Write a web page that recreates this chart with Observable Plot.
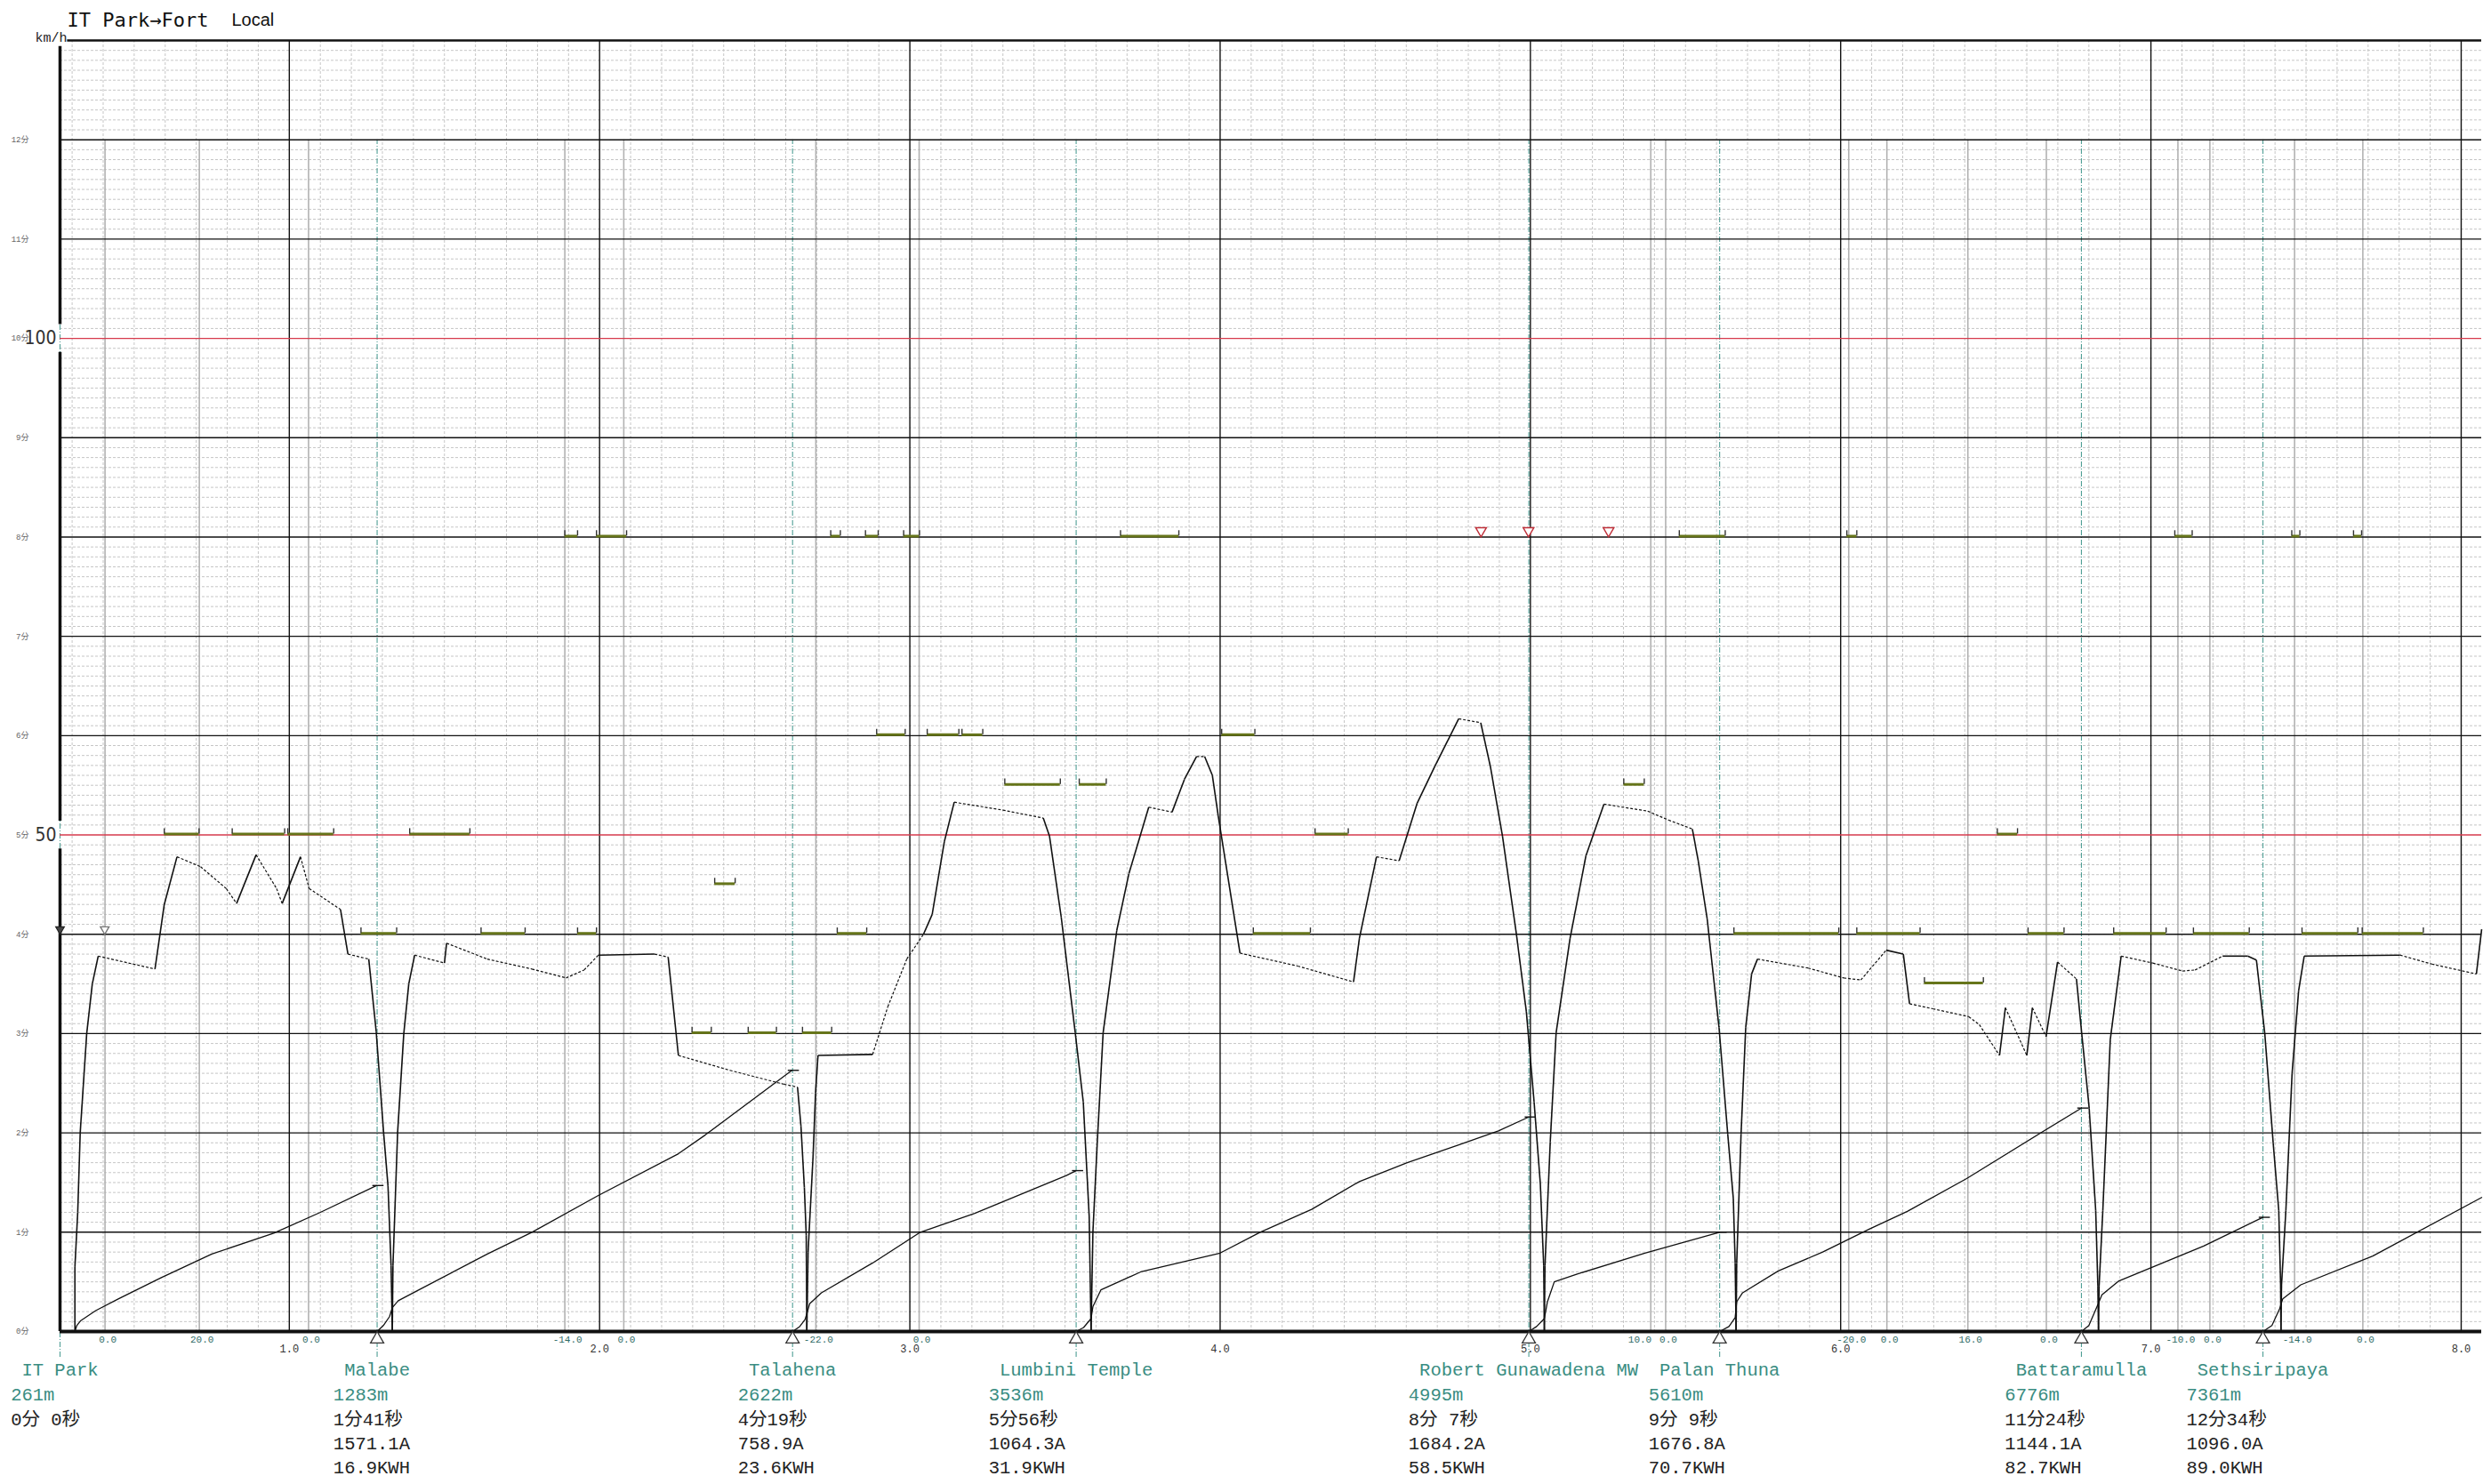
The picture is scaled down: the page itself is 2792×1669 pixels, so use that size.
<!DOCTYPE html>
<html><head><meta charset="utf-8">
<script src="https://cdn.jsdelivr.net/npm/d3@7"></script>
<script src="https://cdn.jsdelivr.net/npm/@observablehq/plot@0.6"></script>
<style>
html,body{margin:0;padding:0;background:#fff;}
#chart svg{display:block;}
</style>
</head><body><div id="chart"></div>
<script>
// ---------------- data ----------------
const stationNames = ["IT Park","Malabe","Talahena","Lumbini Temple","Robert Gunawadena MW","Palan Thuna","Battaramulla","Sethsiripaya"];
const stationKm = [0.261, 1.283, 2.622, 3.536, 4.995, 5.610, 6.776, 7.361];
const stationDistM = [261, 1283, 2622, 3536, 4995, 5610, 6776, 7361];
const stationTime = ["0分 0秒","1分41秒","4分19秒","5分56秒","8分 7秒","9分 9秒","11分24秒","12分34秒"];
const stationCurrentA = [null, 1571.1, 758.9, 1064.3, 1684.2, 1676.8, 1144.1, 1096.0];
const stationEnergyKWh = [null, 16.9, 23.6, 31.9, 58.5, 70.7, 82.7, 89.0];

const gradientKm = [0.406, 0.710, 1.062, 1.888, 2.078, 2.697, 3.030, 5.388, 5.436, 6.026, 6.149, 6.410, 6.663, 7.087, 7.190, 7.463, 7.683];
const gradientPermil = [0, 20, 0, -14, 0, -22, 0, 10, 0, -20, 0, 16, 0, -10, 0, -14, 0];

const kmTicks = [1, 2, 3, 4, 5, 6, 7, 8];
const speedGridMajor = [10, 20, 30, 40, 60, 70, 80, 90, 110, 120];
const speedRedLines = [50, 100];
const minuteTicks = [0,10,20,30,40,50,60,70,80,90,100,110,120];

// speed limits: [from km, to km, km/h]
const speedLimits = [
 [0.597,0.709,50],[0.816,0.985,50],[0.995,1.143,50],[1.231,1.346,40],[1.388,1.582,50],
 [1.618,1.760,40],[1.888,1.929,80],[1.929,1.990,40],[1.990,2.087,80],[2.298,2.360,30],
 [2.371,2.437,45],[2.479,2.570,30],[2.654,2.748,30],[2.745,2.776,80],[2.766,2.861,40],
 [2.857,2.898,80],[2.893,2.985,60],[2.980,3.031,80],[3.056,3.158,60],[3.168,3.235,60],
 [3.306,3.485,55],[3.546,3.633,55],[3.679,3.867,80],[4.005,4.112,60],[4.107,4.291,40],
 [4.306,4.413,50],[5.301,5.367,55],[5.480,5.628,80],[5.656,5.994,40],[6.020,6.052,80],
 [6.052,6.256,40],[6.270,6.460,35],[6.505,6.570,50],[6.604,6.720,40],[6.880,7.049,40],
 [7.077,7.133,80],[7.137,7.317,40],[7.454,7.480,80],[7.487,7.667,40],[7.653,7.679,80],
 [7.681,7.878,40]
];

// speed profile: [km, km/h, run mode of the following stretch: p = power/brake, c = coast]
const speedProfile = [
 [0.309,0,"p"],[0.309,6.5,"p"],[0.318,12,"p"],[0.326,20,"p"],[0.347,30,"p"],[0.365,35,"p"],
 [0.384,37.8,"c"],[0.567,36.5,"p"],[0.597,43.0,"p"],[0.638,47.8,"c"],[0.714,46.8,"c"],[0.797,44.6,"c"],
 [0.830,43.1,"p"],[0.893,48.0,"c"],[0.959,44.6,"c"],[0.977,43.1,"p"],[1.036,47.8,"c"],[1.064,44.6,"c"],
 [1.165,42.5,"p"],[1.189,38.0,"c"],[1.256,37.5,"p"],[1.280,30.2,"p"],[1.304,20.0,"p"],[1.318,14.7,"p"],
 [1.328,6.6,"p"],[1.332,0,"p"],
 [1.334,6.6,"p"],[1.349,20,"p"],[1.369,30,"p"],[1.385,35,"p"],[1.404,37.9,"c"],[1.500,37.1,"p"],
 [1.507,39.1,"c"],[1.638,37.5,"c"],[1.782,36.5,"c"],[1.892,35.6,"c"],[1.950,36.4,"c"],[1.996,37.9,"p"],
 [2.177,38.0,"c"],[2.221,37.7,"p"],[2.254,27.8,"c"],[2.420,26.3,"c"],[2.594,24.9,"c"],[2.638,24.6,"p"],
 [2.649,20.7,"p"],[2.660,14.5,"p"],[2.666,9.7,"p"],[2.668,0,"p"],
 [2.672,8,"p"],[2.688,17.6,"p"],[2.696,24,"p"],[2.704,27.8,"p"],[2.880,27.9,"c"],[2.929,32.7,"c"],
 [2.990,37.5,"c"],[3.044,40.0,"p"],[3.072,42.0,"p"],[3.111,49.3,"p"],[3.143,53.3,"c"],[3.300,52.5,"c"],
 [3.430,51.7,"p"],[3.450,49.9,"p"],[3.488,41.7,"p"],[3.533,30.1,"p"],[3.559,23.1,"p"],[3.578,11.6,"p"],
 [3.584,0,"p"],
 [3.590,10,"p"],[3.604,19,"p"],[3.623,30.1,"p"],[3.667,40.4,"p"],[3.706,46.1,"p"],[3.770,52.8,"c"],
 [3.845,52.3,"p"],[3.885,55.6,"p"],[3.924,57.9,"c"],[3.950,57.9,"p"],[3.975,56.0,"p"],[3.994,51.9,"p"],
 [4.064,38.1,"c"],[4.250,36.8,"c"],[4.430,35.2,"p"],[4.449,39.6,"p"],[4.504,47.8,"c"],[4.577,47.4,"p"],
 [4.635,53.2,"p"],[4.692,56.9,"p"],[4.769,61.7,"c"],[4.840,61.3,"p"],[4.871,56.9,"p"],[4.910,49.9,"p"],
 [4.955,40.0,"p"],[4.987,32.2,"p"],[5.012,23.1,"p"],[5.032,14.9,"p"],[5.043,6.6,"p"],[5.045,0,"p"],
 [5.047,6.6,"p"],[5.064,19.1,"p"],[5.083,30.1,"p"],[5.128,39.6,"p"],[5.179,47.9,"p"],[5.237,53.1,"c"],
 [5.378,52.4,"c"],[5.445,51.5,"c"],[5.522,50.6,"p"],[5.541,47.4,"p"],[5.570,41.5,"p"],[5.608,30.6,"p"],
 [5.636,19.9,"p"],[5.654,13.4,"p"],[5.660,6.9,"p"],[5.663,0,"p"],
 [5.665,6.9,"p"],[5.679,19.9,"p"],[5.694,30.6,"p"],[5.713,36.0,"p"],[5.732,37.5,"c"],[5.895,36.6,"c"],
 [6.010,35.6,"c"],[6.065,35.4,"c"],[6.147,38.4,"p"],[6.202,38.0,"p"],[6.222,33.0,"c"],[6.297,32.5,"c"],
 [6.413,31.7,"c"],[6.447,30.9,"c"],[6.512,27.8,"p"],[6.531,32.6,"c"],[6.600,27.8,"p"],[6.618,32.6,"c"],
 [6.662,29.7,"p"],[6.699,37.2,"c"],[6.760,35.5,"p"],[6.777,30.0,"p"],[6.801,22.5,"p"],[6.822,12.2,"p"],
 [6.829,4.6,"p"],[6.831,0,"p"],
 [6.833,4.6,"p"],[6.845,12.2,"p"],[6.869,29.4,"p"],[6.904,37.8,"c"],[7.006,37.1,"c"],[7.102,36.3,"c"],
 [7.142,36.4,"c"],[7.231,37.8,"p"],[7.312,37.8,"p"],[7.340,37.4,"p"],[7.367,30.0,"p"],[7.394,19.0,"p"],
 [7.412,12.2,"p"],[7.418,4.7,"p"],[7.419,0,"p"],
 [7.421,4.7,"p"],[7.435,12.2,"p"],[7.455,26.0,"p"],[7.476,34.3,"p"],[7.494,37.8,"p"],[7.803,37.9,"c"],
 [7.905,37.0,"c"],[8.049,36.0,"p"],[8.066,40.5,"p"]
];

// running time between stations: [leg, km, minutes]
const runTime = [
 [0,0.309,0],[0,0.315,0.06],[0,0.328,0.11],[0,0.376,0.21],[0,0.450,0.33],[0,0.586,0.54],[0,0.750,0.78],[0,0.950,0.99],[0,1.100,1.20],[0,1.281,1.47],
 [1,1.283,0],[1,1.303,0.06],[1,1.323,0.15],[1,1.332,0.24],[1,1.351,0.31],[1,1.400,0.39],[1,1.638,0.78],[1,1.782,1.00],[1,1.996,1.37],[1,2.254,1.79],[1,2.341,1.98],[1,2.620,2.63],
 [2,2.622,0],[2,2.645,0.05],[2,2.662,0.12],[2,2.670,0.20],[2,2.677,0.28],[2,2.715,0.39],[2,2.880,0.69],[2,3.034,1.00],[2,3.209,1.19],[2,3.504,1.57],[2,3.536,1.62],
 [3,3.536,0],[3,3.560,0.04],[3,3.584,0.13],[3,3.590,0.25],[3,3.616,0.42],[3,3.744,0.60],[3,4.000,0.79],[3,4.129,1.00],[3,4.295,1.23],[3,4.449,1.51],[3,4.603,1.70],[3,4.769,1.88],[3,4.897,2.02],[3,4.995,2.16],
 [4,4.995,0],[4,5.020,0.05],[4,5.045,0.13],[4,5.055,0.30],[4,5.077,0.50],[4,5.153,0.58],[4,5.369,0.79],[4,5.610,1.00],
 [5,5.610,0],[5,5.640,0.05],[5,5.660,0.14],[5,5.665,0.30],[5,5.684,0.39],[5,5.799,0.61],[5,5.942,0.80],[5,6.092,1.03],[5,6.215,1.21],[5,6.406,1.54],[5,6.650,2.01],[5,6.776,2.25],
 [6,6.776,0],[6,6.800,0.06],[6,6.829,0.27],[6,6.842,0.37],[6,6.897,0.51],[6,7.170,0.86],[6,7.361,1.15],
 [7,7.361,0],[7,7.390,0.06],[7,7.415,0.23],[7,7.425,0.33],[7,7.483,0.47],[7,7.715,0.76],[7,8.066,1.35]
];

const redMarkersKm = [4.841, 4.994, 5.252];        // at 80 km/h
const markerFilledKm = [0.261];                    // at 40 km/h
const markerOpenKm = [0.405];                      // at 40 km/h

// ---------------- layout ----------------
const W = 2792, H = 1669, mL = 67, mR = 2, mT = 45, mB = 172;
const xDom = [0.261, 8.066];
const pxPerKm = (W - mL - mR) / (xDom[1] - xDom[0]);
const MONO = `"Liberation Mono","DejaVu Sans Mono","Noto Sans CJK JP",monospace`;
const TITLE = `"DejaVu Sans Mono","Liberation Mono",monospace`;
const NARROW = `"Liberation Sans Narrow","DejaVu Sans Condensed","Liberation Sans",sans-serif`;
const LFS = 20.5, CW = LFS * 0.6;

const stations = stationNames.map((name, i) => ({
  name, km: stationKm[i],
  dist: stationDistM[i] + "m",
  time: stationTime[i],
  amp: stationCurrentA[i] == null ? "" : stationCurrentA[i].toFixed(1) + "A",
  kwh: stationEnergyKWh[i] == null ? "" : stationEnergyKWh[i].toFixed(1) + "KWH"
}));
const leftOf = d => d.km - (d.name.length / 2 + 1) * CW / pxPerKm;

const segs = d3.pairs(speedProfile).map(([a, b]) => ({x1: a[0], y1: a[1], x2: b[0], y2: b[1], mode: a[2]}));
const limitEnds = speedLimits.flatMap(([a, b, v]) => [[a, v], [b, v]]);
const legs = d3.groups(runTime, d => d[0]);
const timeEnds = legs.slice(0, -1).map(([, pts]) => pts[pts.length - 1]);

const minorY = d3.range(1, 130).filter(v => v % 10 !== 0);
const minorX = d3.range(3, 81).filter(v => v % 10 !== 0).map(v => v / 10);

// gradient labels: when the next change point is very close, anchor the label to the left of its line
const gradLabels = gradientKm.map((km, i) => ({
  km, text: gradientPermil[i].toFixed(1),
  crowded: i < gradientKm.length - 1 && (gradientKm[i + 1] - km) * pxPerKm < 30
}));

const lineLabel = (field, dy, fill, anchor) => Plot.text(stations.filter(d => d[field] !== ""), {
  x: anchor === "middle" ? d => d.km : leftOf, y: 0, text: field,
  dy, textAnchor: anchor, lineAnchor: "middle", fontSize: LFS, fontFamily: MONO, fill
});

const chart = Plot.plot({
  width: W, height: H,
  marginLeft: mL, marginRight: mR, marginTop: mT, marginBottom: mB,
  x: {domain: xDom},
  y: {domain: [0, 130]},
  style: {background: "white", fontFamily: MONO, overflow: "visible"},
  marks: [
    // grid
    Plot.ruleY(minorY, {stroke: "#c6c6c6", strokeWidth: 1, strokeDasharray: "3,2"}),
    Plot.ruleX(minorX, {stroke: "#c6c6c6", strokeWidth: 1, strokeDasharray: "3,2"}),
    Plot.ruleX(gradientKm, {y1: 0, y2: 120, stroke: "#b2b2b2", strokeWidth: 1.6}),
    Plot.ruleX(stationKm, {y1: -2.6, y2: 120, stroke: "#4f9e95", strokeWidth: 1.1, strokeDasharray: "6,2,1,2"}),
    Plot.ruleX(kmTicks, {y1: 0, y2: 130, stroke: "#111", strokeWidth: 1.4}),
    Plot.ruleY(speedGridMajor, {stroke: "#111", strokeWidth: 1.4}),
    Plot.ruleY(speedRedLines, {stroke: "#d63a4c", strokeWidth: 1.4}),
    // frame
    Plot.ruleY([130], {x1: 0.285, x2: xDom[1], stroke: "#111", strokeWidth: 2.5}),
    Plot.ruleX([[0, 48.6], [51.4, 98.6], [101.4, 129.4]], {x: xDom[0], y1: d => d[0], y2: d => d[1], stroke: "#111", strokeWidth: 3.5}),
    Plot.ruleY([0], {stroke: "#111", strokeWidth: 4}),
    // speed limits
    Plot.ruleY(speedLimits, {y: d => d[2], x1: d => d[0], x2: d => d[1], stroke: "#66751a", strokeWidth: 3, dy: -1}),
    Plot.ruleX(limitEnds, {x: d => d[0], y1: d => d[1], y2: d => d[1] + 0.55, stroke: "#333", strokeWidth: 1.4, dy: -1}),
    // running time curves
    Plot.line(runTime, {x: d => d[1], y: d => d[2] * 10, z: d => d[0], stroke: "#111", strokeWidth: 1.3}),
    Plot.ruleY(timeEnds, {y: d => d[2] * 10, x1: d => d[1] - 0.012, x2: d => d[1] + 0.024, stroke: "#111", strokeWidth: 1.4}),
    // speed curve
    Plot.link(segs.filter(s => s.mode === "c"), {x1: "x1", y1: "y1", x2: "x2", y2: "y2", stroke: "#111", strokeWidth: 1.2, strokeDasharray: "3,2"}),
    Plot.link(segs.filter(s => s.mode === "p"), {x1: "x1", y1: "y1", x2: "x2", y2: "y2", stroke: "#111", strokeWidth: 1.6}),
    // markers
    Plot.dot(redMarkersKm, {x: d => d, y: 80, symbol: "triangle", r: 4.5, rotate: 180, dy: -7, stroke: "#c0303a", fill: "white", strokeWidth: 1.4}),
    Plot.dot(markerFilledKm, {x: d => d, y: 40, symbol: "triangle", r: 3.6, rotate: 180, dy: -5.6, stroke: "#222", fill: "#444", strokeWidth: 1.2}),
    Plot.dot(markerOpenKm, {x: d => d, y: 40, symbol: "triangle", r: 3.6, rotate: 180, dy: -5.6, stroke: "#777", fill: "white", strokeWidth: 1.4}),
    Plot.dot(stationKm.slice(1), {x: d => d, y: 0, symbol: "triangle", r: 5.5, dy: 8.6, stroke: "#333", fill: "white", strokeWidth: 1.3}),
    // gradient labels
    Plot.text(gradLabels.filter(d => !d.crowded), {x: "km", y: 0, text: "text", dy: 9, dx: 3, lineAnchor: "middle", fontSize: 11, fontFamily: MONO, fill: "#2f6b66"}),
    Plot.text(gradLabels.filter(d => d.crowded), {x: "km", y: 0, text: "text", dy: 9, dx: 1, textAnchor: "end", lineAnchor: "middle", fontSize: 11, fontFamily: MONO, fill: "#2f6b66"}),
    // axes
    Plot.axisX({ticks: kmTicks, tickFormat: d => d.toFixed(1), tickSize: 0, tickPadding: 15, fontSize: 12, fontFamily: MONO, color: "#333", label: null}),
    Plot.axisY({ticks: minuteTicks, tickFormat: d => `${d / 10}分`, tickSize: 0, tickPadding: 35, fontSize: 9, color: "#666", label: null}),
    Plot.text(speedRedLines, {x: xDom[0], y: d => d, text: d => String(d), textAnchor: "end", dx: -4, lineAnchor: "middle", fontSize: 21, fontFamily: NARROW, fill: "#333"}),
    // station labels
    lineLabel("name", 43, "#3a8d82", "middle"),
    lineLabel("dist", 71, "#3a8d82", "start"),
    lineLabel("time", 99, "#222", "start"),
    lineLabel("amp", 126, "#222", "start"),
    lineLabel("kwh", 153, "#222", "start"),
    // titles
    Plot.text(["IT Park→Fort"], {text: d => d, frameAnchor: "top-left", dx: 8, dy: -16, textAnchor: "start", lineAnchor: "bottom", fontSize: 22, fontFamily: TITLE, fill: "#111"}),
    Plot.text(["Local"], {text: d => d, frameAnchor: "top-left", dx: 193, dy: -17, textAnchor: "start", lineAnchor: "bottom", fontSize: 20, fontFamily: `"Liberation Sans",Arial,sans-serif`, fill: "#111"}),
    Plot.text(["km/h"], {text: d => d, frameAnchor: "top-left", dx: 8, dy: 1.5, textAnchor: "end", lineAnchor: "bottom", fontSize: 15, fontFamily: MONO, fill: "#222"})
  ]
});
document.getElementById("chart").appendChild(chart);
</script>
</body></html>
